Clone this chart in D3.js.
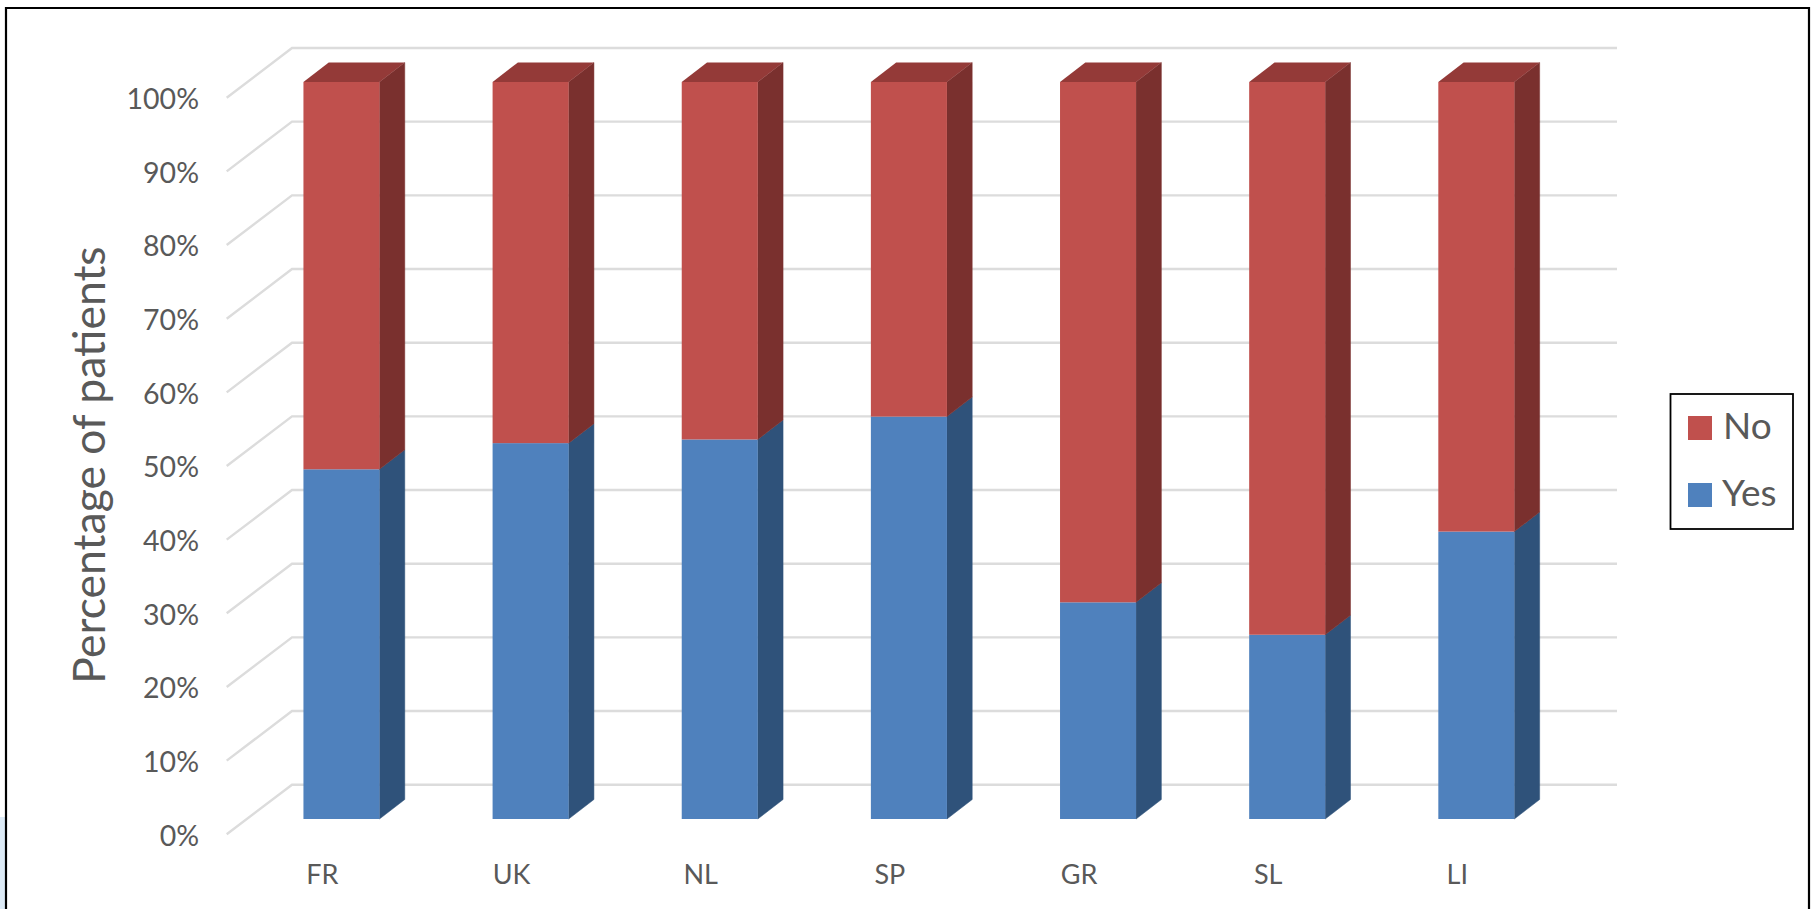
<!DOCTYPE html>
<html><head><meta charset="utf-8">
<script src="https://cdn.jsdelivr.net/npm/d3@7/dist/d3.min.js"></script>
<style>html,body{margin:0;padding:0;background:#fff;overflow:hidden}svg{display:block}text{font-family:Lato,sans-serif;fill:#595959}</style>
</head><body><svg id="c" width="1812" height="909"></svg>
<script>
const categories = ["FR","UK","NL","SP","GR","SL","LI"];
const yesValues = [47.45,51.0,51.5,54.6,29.4,25.0,39.0];
const noValues = [52.55,49.0,48.5,45.4,70.6,75.0,61.0];
const tickValues = [0,10,20,30,40,50,60,70,80,90,100];
const seriesNames = ["No","Yes"];
const colors = {Yes:{front:"#4F81BD",side:"#2F527A",top:"#3B6696"},No:{front:"#C0504D",side:"#7A302E",top:"#943A38"}};

const svg = d3.select("#c");
svg.append("rect").attr("x",0).attr("y",817).attr("width",5).attr("height",92).attr("fill","#DCEAF6");
svg.append("path").attr("d","M6,909V8H1809V909").attr("fill","none").attr("stroke","#000").attr("stroke-width",2.2);

const y = d3.scaleLinear().domain([0,100]).range([819,82]);
const yAxisFront = d3.scaleLinear().domain([0,100]).range([834.3,97.7]);
const yWall = d3.scaleLinear().domain([0,100]).range([784.7,48]);
const x = d3.scaleBand().domain(categories).range([246.7,246.7+7*189.2]).paddingInner(0.598).paddingOuter(0.3);
const depth = {dx:25.3,dy:19.5};
const grid = {fx:226.7,bx:292,ex:1617};

// gridlines
svg.append("g").selectAll("path").data(tickValues).join("path")
  .attr("d",d=>d3.line()([[grid.fx,yAxisFront(d)],[grid.bx,yWall(d)],[grid.ex,yWall(d)]]))
  .attr("fill","none").attr("stroke","#DCDCDC").attr("stroke-width",2.4);

// y axis labels
const ya = svg.append("g").attr("transform","translate(199,0)")
  .call(d3.axisLeft(yAxisFront).tickValues(tickValues).tickSize(0).tickPadding(0).tickFormat(d=>d+"%"));
ya.select(".domain").remove();
ya.selectAll("text").attr("font-size",28.5).style("font-family","Lato,sans-serif").attr("dy","0.38em").attr("fill","#595959");

// x axis labels
const xa = svg.append("g").attr("transform",`translate(${19-x.bandwidth()/2},873)`)
  .call(d3.axisBottom(x).tickSize(0).tickPadding(0));
xa.select(".domain").remove();
xa.selectAll("text").attr("font-size",27).style("font-family","Lato,sans-serif").attr("dy","0.4em").attr("fill","#595959");

// bars
const pts = a=>d3.line()(a)+"Z";
const segs = categories.flatMap((c,i)=>[
  {c,name:"Yes",v0:0,v1:yesValues[i]},
  {c,name:"No",v0:yesValues[i],v1:yesValues[i]+noValues[i]}
]);
const bars = svg.append("g").selectAll("g").data(segs).join("g");
bars.append("path").attr("d",d=>{
    const r=x(d.c)+x.bandwidth();
    return pts([[r,y(d.v0)],[r+depth.dx,y(d.v0)-depth.dy],[r+depth.dx,y(d.v1)-depth.dy],[r,y(d.v1)]]);
  }).attr("fill",d=>colors[d.name].side).attr("stroke",d=>colors[d.name].side).attr("stroke-width",.5);
bars.filter(d=>d.name==="No").append("path").attr("d",d=>{
    const l=x(d.c),r=l+x.bandwidth(),t=y(d.v1);
    return pts([[l,t],[l+depth.dx,t-depth.dy],[r+depth.dx,t-depth.dy],[r,t]]);
  }).attr("fill",d=>colors[d.name].top);
bars.append("rect")
  .attr("x",d=>x(d.c)).attr("y",d=>y(d.v1))
  .attr("width",x.bandwidth()).attr("height",d=>y(d.v0)-y(d.v1))
  .attr("fill",d=>colors[d.name].front);

// title
svg.append("text").attr("transform","translate(105,465) rotate(-90)")
  .attr("text-anchor","middle").attr("font-size",44.5).text("Percentage of patients");

// legend
const lg = svg.append("g");
lg.append("rect").attr("x",1670.5).attr("y",394).attr("width",122.5).attr("height",135)
  .attr("fill","#fff").attr("stroke","#000").attr("stroke-width",1.8);
const ly = d3.scalePoint().domain(seriesNames).range([428,495]);
const items = lg.selectAll("g").data(seriesNames).join("g").attr("transform",d=>`translate(0,${ly(d)})`);
items.append("rect").attr("x",1688).attr("y",-12).attr("width",24).attr("height",24).attr("fill",d=>colors[d].front);
items.append("text").attr("x",d=>d==="No"?1723:1722).attr("y",11).attr("font-size",37).text(d=>d);
</script></body></html>
